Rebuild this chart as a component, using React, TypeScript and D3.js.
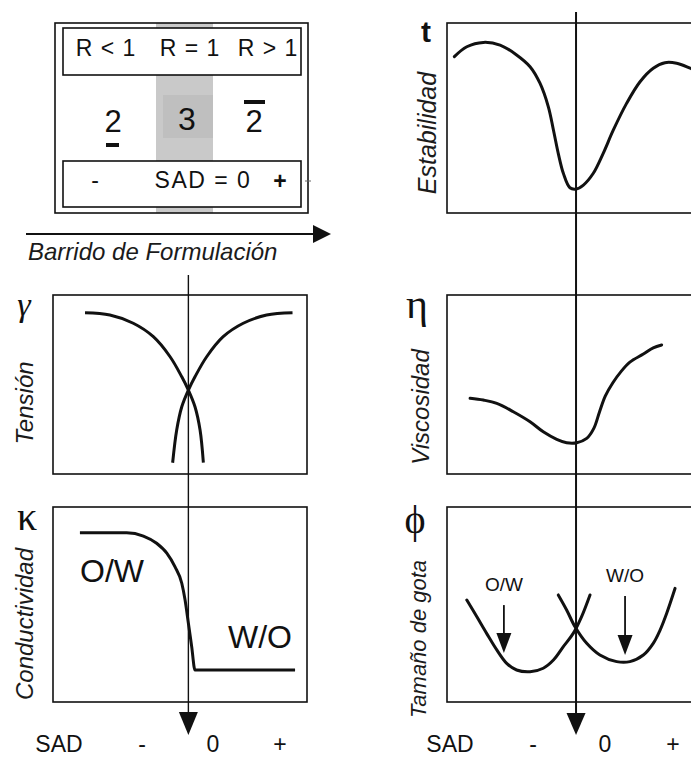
import React from 'react';
import * as d3 from 'd3';

const W = 691;
const H = 759;

// ---- data (panel-relative units: x 0 = left edge .. 100 = right edge, y 0 = bottom .. 100 = top)
const stability: [number, number][] = [
  [2.9, 82.3], [7.8, 87.5], [14.3, 89.8], [20.9, 88.4], [27.4, 83.2], [32.7, 77.0], [36.6, 68.3],
  [39.9, 55.9], [41.9, 43.7], [43.8, 31.4], [45.8, 20.9], [48.4, 13.3], [50.8, 12.6], [53.7, 14.7],
  [57.6, 20.9], [61.5, 31.4], [65.5, 43.7], [70.7, 57.7], [76.0, 69.1], [81.2, 76.2], [85.8, 79.1],
  [90.4, 78.8], [95.7, 76.2], [100, 73.7],
];
const tensionA: [number, number][] = [
  [12.6, 90.1], [22.4, 88.8], [31.6, 84.2], [39.5, 76.7], [46.1, 65.5], [50.7, 54.3], [53.3, 46.9],
  [55.9, 37.6], [57.9, 24.6], [59.2, 6.3],
];
const tensionB: [number, number][] = [
  [94.3, 90.1], [84.1, 88.8], [74.9, 84.2], [67.0, 76.7], [60.5, 65.5], [55.9, 54.3], [53.3, 46.9],
  [50.7, 37.6], [48.7, 24.6], [47.1, 6.3],
];
const viscosity: [number, number][] = [
  [9.1, 42.3], [14.3, 41.3], [19.6, 39.5], [26.1, 34.8], [32.7, 29.2], [37.9, 23.6], [43.2, 19.4],
  [47.1, 17.5], [51.1, 17.5], [55.0, 19.9], [57.8, 25.5], [60.0, 34.5], [62.3, 43.5], [65.3, 51.0],
  [68.5, 57.2], [72.0, 62.5], [77.3, 67.0], [81.2, 70.5], [84.5, 72.1],
];
const conductivity: [number, number][] = [
  [10.6, 86.8], [29.0, 86.8], [35.6, 85.1], [40.8, 81.4], [44.8, 76.3], [48.0, 69.4], [50.7, 60.9],
  [52.0, 52.3], [53.3, 40.4], [54.6, 28.4], [55.9, 16.4], [95.3, 16.4],
];
const dropOW: [number, number][] = [
  [7.8, 52.3], [11.7, 43.8], [15.6, 35.2], [19.6, 26.7], [23.5, 19.8], [27.4, 16.4], [32.7, 15.5],
  [37.9, 17.3], [41.9, 21.5], [45.8, 28.4], [49.7, 35.2], [53.0, 43.8], [56.3, 54.9],
];
const dropWO: [number, number][] = [
  [43.8, 54.9], [47.1, 47.2], [50.4, 38.6], [55.0, 30.1], [60.2, 24.1], [66.8, 20.7], [72.0, 20.7],
  [77.3, 24.1], [81.2, 30.1], [83.9, 36.9], [86.5, 45.5], [89.8, 58.3],
];
const dropArrows = [
  { label: 'O/W', x: 22.4, from: 49.7, to: 25.1, labelY: 56.9 },
  { label: 'W/O', x: 70.1, from: 54.4, to: 24.1, labelY: 61.5 },
];
const sadZeroLeft = 53.3;
const sadZeroRight = 50.8;
const regionLabels = ['R < 1', 'R = 1', 'R > 1'];
const sadTicks = ['SAD', '-', '0', '+'];

// ---- layout
const colL = [53, 307];
const colR = [447, 701];
const rowTop = [23, 213];
const rowMid = [295, 474];
const rowBot = [507, 702];

const SANS = 'Liberation Sans, Arial, Helvetica, sans-serif';
const SERIF = 'Liberation Serif, Times New Roman, serif';
const INK = '#111';

function scales(col: number[], row: number[]) {
  const x = d3.scaleLinear().domain([0, 100]).range(col);
  const y = d3.scaleLinear().domain([0, 100]).range([row[1], row[0]]);
  return { x, y };
}

function curvePath(data: [number, number][], s: { x: any; y: any }, monotone = false) {
  const gen = d3
    .line<[number, number]>()
    .x((d) => s.x(d[0]))
    .y((d) => s.y(d[1]))
    .curve(monotone ? d3.curveMonotoneX : d3.curveCatmullRom.alpha(0.5));
  return gen(data) || '';
}

function Frame({ col, row }: { col: number[]; row: number[] }) {
  return (
    <rect x={col[0]} y={row[0]} width={col[1] - col[0]} height={row[1] - row[0]} fill="none" stroke={INK} strokeWidth={1.6} />
  );
}

function SideLabel({ x, y, text, size = 24 }: { x: number; y: number; text: string; size?: number }) {
  return (
    <text
      transform={`translate(${x},${y}) rotate(-90)`}
      textAnchor="middle"
      fontFamily={SANS}
      fontStyle="italic"
      fontSize={size}
      fill="#1b1b1b"
    >
      {text}
    </text>
  );
}

export default function App() {
  const sTop = scales(colR, rowTop);
  const sMidL = scales(colL, rowMid);
  const sMidR = scales(colR, rowMid);
  const sBotL = scales(colL, rowBot);
  const sBotR = scales(colR, rowBot);

  const xLine = sMidL.x(sadZeroLeft);
  const xLineR = sTop.x(sadZeroRight);

  const curveStyle = { fill: 'none', stroke: INK, strokeWidth: 3, strokeLinecap: 'round' as const, strokeLinejoin: 'round' as const };

  const leftTickX = [59, 142, 213, 280];
  const rightTickX = [450, 533, 605, 673];

  return (
    <svg width={W} height={H} style={{ position: 'absolute', left: 0, top: 0, background: '#fff' }}>
      <rect width={W} height={H} fill="#fff" />

      {/* ---- top-left schematic box ---- */}
      <rect x={156} y={23} width={57} height={190} fill="#c9c9c9" />
      <rect x={163} y={95} width={50} height={43} fill="#bfbfbf" />
      <rect x={55} y={23} width={253} height={190} fill="none" stroke={INK} strokeWidth={1.6} />
      <rect x={63} y={28} width={238} height={47} fill="#fff" stroke={INK} strokeWidth={1.6} />
      <rect x={63} y={161} width={238} height={46} fill="#fff" stroke={INK} strokeWidth={1.6} />
      {regionLabels.map((t, i) => (
        <text key={t} x={[106, 190, 268][i]} y={56} textAnchor="middle" fontFamily={SANS} fontSize={23} letterSpacing={1} fill={INK}>
          {t}
        </text>
      ))}
      <text x={113} y={132} textAnchor="middle" fontFamily={SANS} fontSize={31} fill={INK}>2</text>
      <rect x={106} y={143} width={13} height={4} fill={INK} />
      <text x={187} y={130} textAnchor="middle" fontFamily={SANS} fontSize={32} fill={INK}>3</text>
      <text x={254} y={132} textAnchor="middle" fontFamily={SANS} fontSize={31} fill={INK}>2</text>
      <rect x={244} y={100} width={21} height={4} fill={INK} />
      <text x={95} y={188} textAnchor="middle" fontFamily={SANS} fontSize={23} fill={INK}>-</text>
      <text x={203} y={188} textAnchor="middle" fontFamily={SANS} fontSize={23} letterSpacing={1.5} fill={INK}>SAD = 0</text>
      <text x={280} y={189} textAnchor="middle" fontFamily={SANS} fontSize={23} fontWeight="bold" fill={INK}>+</text>
      <line x1={305} x2={311} y1={181} y2={181} stroke="#666" strokeWidth={1} />

      {/* sweep arrow */}
      <line x1={26} x2={315} y1={234} y2={234} stroke={INK} strokeWidth={2} />
      <polygon points="313,225 331,234 313,243" fill={INK} />
      <text x={28} y={260} fontFamily={SANS} fontStyle="italic" fontSize={24} fill="#1b1b1b">
        Barrido de Formulación
      </text>

      {/* ---- vertical SAD=0 lines ---- */}
      <line x1={xLine} x2={xLine} y1={275} y2={714} stroke={INK} strokeWidth={1.4} />
      <polygon points={`${xLine - 9.5},712 ${xLine + 9.5},712 ${xLine},735`} fill={INK} />
      <line x1={xLineR} x2={xLineR} y1={12} y2={715} stroke={INK} strokeWidth={2} />
      <polygon points={`${xLineR - 9.5},713 ${xLineR + 9.5},713 ${xLineR},735`} fill={INK} />

      {/* ---- Estabilidad ---- */}
      <Frame col={colR} row={rowTop} />
      <path d={curvePath(stability, sTop)} {...curveStyle} />
      <text x={426} y={42} textAnchor="middle" fontFamily={SANS} fontWeight="bold" fontSize={30} fill={INK}>t</text>
      <SideLabel x={436} y={133} text="Estabilidad" size={25} />

      {/* ---- Tensión ---- */}
      <Frame col={colL} row={rowMid} />
      <path d={curvePath(tensionA, sMidL)} {...curveStyle} strokeLinecap="butt" />
      <path d={curvePath(tensionB, sMidL)} {...curveStyle} strokeLinecap="butt" />
      <text x={24} y={316} textAnchor="middle" fontFamily={SERIF} fontStyle="italic" fontSize={34} fill={INK}>γ</text>
      <SideLabel x={33} y={403} text="Tensión" size={24} />

      {/* ---- Viscosidad ---- */}
      <Frame col={colR} row={rowMid} />
      <path d={curvePath(viscosity, sMidR)} {...curveStyle} />
      <text x={417} y={318} textAnchor="middle" fontFamily={SERIF} fontSize={42} fill={INK}>η</text>
      <SideLabel x={429} y={407} text="Viscosidad" size={24} />

      {/* ---- Conductividad ---- */}
      <Frame col={colL} row={rowBot} />
      <path d={curvePath(conductivity, sBotL, true)} {...curveStyle} strokeLinecap="butt" strokeLinejoin="miter" />
      <text x={27} y={530} textAnchor="middle" fontFamily={SERIF} fontSize={40} fill={INK}>κ</text>
      <SideLabel x={33} y={624} text="Conductividad" size={24} />
      <text x={80} y={582} fontFamily={SANS} fontSize={32} fill={INK}>O/W</text>
      <text x={228} y={648} fontFamily={SANS} fontSize={32} fill={INK}>W/O</text>

      {/* ---- Tamaño de gota ---- */}
      <Frame col={colR} row={rowBot} />
      <path d={curvePath(dropOW, sBotR)} {...curveStyle} />
      <path d={curvePath(dropWO, sBotR)} {...curveStyle} />
      {dropArrows.map((a) => {
        const x = sBotR.x(a.x);
        const y0 = sBotR.y(a.from);
        const y1 = sBotR.y(a.to);
        return (
          <g key={a.label}>
            <line x1={x} x2={x} y1={y0} y2={y1 - 18} stroke={INK} strokeWidth={1.8} />
            <polygon points={`${x - 7.5},${y1 - 20} ${x + 7.5},${y1 - 20} ${x},${y1}`} fill={INK} />
            <text x={x} y={sBotR.y(a.labelY)} textAnchor="middle" fontFamily={SANS} fontSize={19} fill={INK}>
              {a.label}
            </text>
          </g>
        );
      })}
      <text x={415} y={533} textAnchor="middle" fontFamily={SERIF} fontSize={40} fill={INK}>ϕ</text>
      <SideLabel x={426} y={639} text="Tamaño de gota" size={22} />

      {/* ---- SAD tick labels ---- */}
      {sadTicks.map((t, i) => (
        <text key={'l' + i} x={leftTickX[i]} y={752} textAnchor="middle" fontFamily={SANS} fontSize={23} fill={INK}>
          {t}
        </text>
      ))}
      {sadTicks.map((t, i) => (
        <text key={'r' + i} x={rightTickX[i]} y={752} textAnchor="middle" fontFamily={SANS} fontSize={23} fill={INK}>
          {t}
        </text>
      ))}
    </svg>
  );
}
